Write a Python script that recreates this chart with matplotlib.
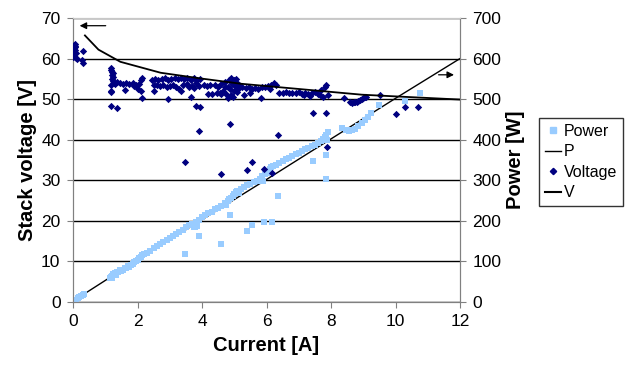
import matplotlib
matplotlib.use("Agg")
import matplotlib.pyplot as plt
from matplotlib.lines import Line2D

plt.rcParams['font.family'] = ['Liberation Sans', 'DejaVu Sans']

# measured stack voltage [A, V]
volt_i = [0.00, 0.01, 0.02, 0.03, 0.04, 0.05, 0.06, 0.07, 0.08, 0.03, 0.10, 0.12, 0.02, 0.05,
          0.30, 0.27, 0.30,
          1.17, 1.19, 1.21, 1.23, 1.20, 1.24, 1.22, 1.25, 1.27, 1.19, 1.18, 1.17, 1.18, 1.35, 1.30, 1.35,
          1.45, 1.55, 1.65, 1.75, 1.85, 1.95, 2.05, 2.10, 2.15, 2.00, 1.60, 2.12, 2.15, 1.90,
          2.45, 2.55, 2.65, 2.75, 2.85, 2.95, 3.05, 3.15, 3.25, 3.35, 3.45, 3.55, 3.65, 3.75, 3.85, 3.95,
          2.50, 2.60, 2.70, 2.80, 2.90, 3.00, 3.10, 3.20, 3.30, 3.40, 3.55, 3.60, 3.70, 3.80, 3.90, 3.75, 3.35,
          2.94, 3.66, 3.80, 3.93, 3.90, 3.46, 2.50,
          4.05, 4.15, 4.25, 4.30, 4.40, 4.50, 4.55, 4.60, 4.65, 4.70, 4.75, 4.80, 4.85, 4.88, 4.90, 4.92,
          4.95, 4.98, 5.00, 5.02, 5.05, 5.08, 5.10, 5.12, 4.82, 4.70, 5.15, 4.90, 4.60, 4.45, 4.20,
          4.87, 4.59,
          5.25, 5.35, 5.45, 5.55, 5.65, 5.75, 5.85, 5.95, 6.05, 6.15, 6.22, 6.30, 6.10, 5.50, 5.83, 5.30,
          5.40, 5.55, 5.93, 6.18, 6.36,
          6.40, 6.50, 6.60, 6.70, 6.80, 6.90, 7.00, 7.10, 7.20, 7.30, 7.40, 7.50, 7.60, 7.70, 7.80, 7.85,
          7.90, 7.75, 7.35, 7.15, 7.65,
          7.45, 7.85, 7.87, 8.40,
          8.60, 8.65, 8.70, 8.75, 8.80, 8.85, 8.90, 8.95, 9.00, 9.05, 9.10,
          9.51, 10.00, 10.28, 10.69]
volt_v = [60.3, 61.0, 61.8, 62.5, 63.2, 63.6, 63.0, 62.2, 61.4, 60.6, 60.2, 60.0, 63.4, 62.8,
          61.8, 59.6, 58.9,
          57.6, 57.2, 56.8, 56.4, 55.9, 55.4, 54.9, 54.5, 54.0, 53.5, 52.0, 51.8, 48.2, 47.8, 53.8, 54.2,
          54.0, 53.8, 54.1, 53.7, 53.9, 53.6, 53.8, 54.6, 55.3, 52.4, 52.3, 51.9, 50.3, 53.3,
          54.8, 55.0, 54.6, 54.9, 55.1, 54.7, 55.0, 55.2, 54.9, 55.1, 55.0, 55.3, 54.8, 55.1, 54.6, 54.9,
          53.4, 53.6, 53.2, 53.5, 53.0, 53.3, 53.6, 53.1, 52.5, 53.4, 53.8, 53.0, 53.3, 53.9, 53.2, 52.7, 52.0,
          50.0, 50.5, 48.3, 48.1, 42.1, 34.6, 52.0,
          53.5, 53.2, 53.6, 51.3, 53.4, 53.0, 51.5, 53.8, 52.0, 54.3, 51.3, 53.0, 54.6, 52.4, 51.0, 53.7,
          50.6, 54.8, 52.0, 53.3, 55.0, 51.8, 54.0, 52.6, 50.3, 52.9, 53.6, 55.2, 51.2, 51.4, 51.3,
          43.9, 31.6,
          53.0, 52.7, 52.9, 52.5, 52.8, 52.6, 52.9, 53.1, 53.3, 53.6, 53.9, 53.5, 52.4, 51.6, 50.2, 51.0,
          32.6, 34.5, 32.9, 31.8, 41.2,
          51.6, 51.4, 51.7, 51.5, 51.6, 51.4, 51.7, 51.3, 51.6, 51.2, 51.5, 51.8, 51.3, 52.2, 52.9, 53.5,
          51.0, 50.6, 50.8, 51.0, 51.0,
          46.5, 46.5, 38.3, 50.4,
          49.2, 49.1, 49.2, 49.3, 49.4, 49.6, 49.8, 50.0, 50.3, 50.5, 50.6,
          51.1, 46.3, 48.0, 48.0]

# measured power [A, W]
pow_i = [0.00, 0.02, 0.05, 0.08, 0.10, 0.15, 0.20, 0.25, 0.30, 0.35,
         1.15, 1.18, 1.20, 1.22, 1.25, 1.28, 1.30, 1.33, 1.35, 1.40, 1.45, 1.50, 1.55, 1.60, 1.65,
         1.70, 1.75, 1.80, 1.85, 1.90, 1.95, 2.00, 2.05, 2.10, 2.15, 2.20, 2.30, 2.40, 2.50, 2.60,
         2.70, 2.80, 2.90, 3.00, 3.10, 3.20, 3.30, 3.40, 3.50, 3.60, 3.70, 3.75, 3.80, 3.86, 3.90,
         4.00, 4.10, 4.20, 4.30, 4.40, 4.50, 4.60, 4.70, 4.75, 4.80, 4.85, 4.90, 4.95, 5.00, 5.05,
         5.10, 5.15, 5.20, 5.30, 5.40, 5.50, 5.60, 5.70, 5.80, 5.85, 5.90, 5.95, 6.00, 6.05, 6.10,
         6.15, 6.20, 6.30, 6.40, 6.50, 6.60, 6.70, 6.80, 6.90, 7.00, 7.10, 7.20, 7.30, 7.40, 7.50,
         7.60, 7.70, 7.75, 7.80, 7.85, 7.90, 7.88,
         8.35, 8.45, 8.55, 8.65, 8.75, 8.85, 8.95, 9.05, 9.15, 9.25, 9.50, 10.28, 10.75,
         3.46, 3.90, 3.78, 4.59, 4.87, 5.40, 5.55, 5.93, 6.18, 6.36, 7.45, 7.85, 7.86]
pow_p = [0, 2, 4, 6, 5, 10, 12, 15, 18, 20,
         58, 62, 65, 60, 70, 68, 72, 66, 75, 73, 78, 76, 80, 83, 85,
         88, 86, 92, 94, 98, 102, 104, 108, 112, 115, 118, 122, 126, 132, 138,
         142, 148, 152, 158, 163, 168, 173, 178, 184, 189, 193, 186, 197, 188, 203,
         209, 214, 219, 223, 228, 232, 237, 243, 238, 249, 253, 257, 261, 265, 270,
         274, 268, 278, 283, 288, 292, 296, 299, 304, 310, 298, 315, 318, 323, 328,
         332, 335, 338, 342, 347, 352, 356, 360, 365, 368, 372, 376, 380, 384, 388,
         392, 397, 402, 407, 412, 418, 400,
         428, 423, 421, 423, 427, 434, 441, 449, 457, 466, 485, 496, 516,
         118, 163, 184, 143, 214, 175, 190, 196, 197, 261, 348, 363, 303]

# fitted curves
fit_i = [0.37, 0.79, 1.47, 2.72, 3.96, 5.2, 6.45, 7.7, 8.95, 10.2, 12.0]
fit_v = [65.7, 62.2, 59.2, 56.5, 55.1, 53.8, 52.9, 52.0, 51.1, 50.6, 49.9]
fitp_i = [0.37, 2, 4, 6, 8, 10, 12]
fitp_p = [21, 104, 203, 302, 402, 502, 600]

LIGHT = '#99ccff'
NAVY = '#000080'
AXIS_GREY = '#808080'

fig = plt.figure(figsize=(6.28, 3.71), dpi=100)
ax = fig.add_axes([73 / 628, 1 - 302 / 371, 387 / 628, 284 / 371])
ax2 = ax.twinx()
ax.set_zorder(ax2.get_zorder() + 1)
ax.patch.set_visible(False)

# power side (drawn underneath)
ax2.plot(fitp_i, fitp_p, color='black', lw=1.0, zorder=2)
ax2.scatter(pow_i, pow_p, marker='s', s=20, color=LIGHT, linewidths=0, zorder=3)
ax2.set_ylim(0, 700)
ax2.set_yticks(range(0, 701, 100))
ax2.grid(axis='y', color='black', lw=1.0)
ax2.set_axisbelow(True)

# voltage side
ax.scatter(volt_i, volt_v, marker='D', s=14, color=NAVY, linewidths=0, zorder=3)
ax.plot(fit_i, fit_v, color='black', lw=1.3, zorder=4)
ax.set_xlim(0, 12)
ax.set_ylim(0, 70)
ax.set_xticks(range(0, 13, 2))
ax.set_yticks(range(0, 71, 10))

ax.annotate('', xy=(0.12, 68.1), xytext=(1.1, 68.1),
            arrowprops=dict(arrowstyle='-|>', color='black', lw=0.9, mutation_scale=10))
ax2.annotate('', xy=(11.9, 560), xytext=(11.25, 560),
             arrowprops=dict(arrowstyle='-|>', color='black', lw=0.9, mutation_scale=10))

for a in (ax, ax2):
    for side in a.spines.values():
        side.set_color(AXIS_GREY)
    a.spines['top'].set_color('#c8c8c8')
    a.tick_params(colors=AXIS_GREY, labelcolor='black', labelsize=12.5, length=4,
                  direction='out', pad=5)

ax.set_xlabel('Current [A]', fontsize=14.5, fontweight='bold', labelpad=5)
ax.set_ylabel('Stack voltage [V]', fontsize=14.5, fontweight='bold', labelpad=3)
ax2.set_ylabel('Power [W]', fontsize=14.5, fontweight='bold', labelpad=3)

handles = [
    Line2D([], [], marker='s', ls='none', color=LIGHT, markersize=4),
    Line2D([], [], color='black', lw=1.0),
    Line2D([], [], marker='D', ls='none', color=NAVY, markersize=3.2),
    Line2D([], [], color='black', lw=1.5),
]
leg = fig.legend(handles, ['Power', 'P', 'Voltage', 'V'], loc='upper left',
                 bbox_to_anchor=(539 / 628, 1 - 118 / 371), bbox_transform=fig.transFigure,
                 fontsize=11.5, frameon=True, fancybox=False, handlelength=1.0,
                 handletextpad=0.2, borderpad=0.35, labelspacing=0.35, borderaxespad=0)
leg.get_frame().set_edgecolor('black')
leg.get_frame().set_linewidth(1.0)

fig.savefig('out.png', dpi=100)
